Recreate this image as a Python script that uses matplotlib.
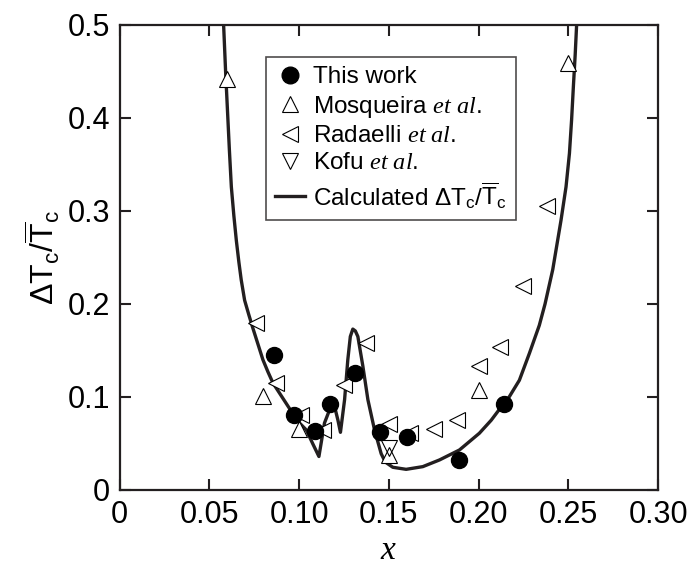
import numpy as np
import matplotlib
matplotlib.use('Agg')
import matplotlib.pyplot as plt
from matplotlib.lines import Line2D

plt.rcParams['font.family'] = ['Liberation Sans', 'DejaVu Sans']
plt.rcParams['mathtext.fontset'] = 'custom'
plt.rcParams['mathtext.rm'] = 'Liberation Sans'
plt.rcParams['mathtext.it'] = 'Liberation Serif:italic'
plt.rcParams['mathtext.bf'] = 'Liberation Sans:bold'

# 本工作
this_work_x = [0.086, 0.097, 0.109, 0.117, 0.131, 0.145, 0.160, 0.189, 0.214]
this_work_y = [0.145, 0.081, 0.063, 0.092, 0.126, 0.062, 0.057, 0.032, 0.092]

# Mosqueira et al.
mosqueira_x = [0.060, 0.080, 0.100, 0.150, 0.200, 0.250]
mosqueira_y = [0.442, 0.101, 0.066, 0.038, 0.108, 0.459]

# Radaelli et al.
radaelli_x = [0.076, 0.087, 0.101, 0.113, 0.125, 0.137, 0.150, 0.162,
              0.175, 0.188, 0.200, 0.212, 0.225, 0.238]
radaelli_y = [0.180, 0.115, 0.081, 0.065, 0.113, 0.158, 0.071, 0.061,
              0.066, 0.075, 0.133, 0.154, 0.219, 0.305]

# Kofu et al.
kofu_x = [0.150]
kofu_y = [0.045]

# 计算曲线
calc_x = [0.0579, 0.0590, 0.0600, 0.0611, 0.0622, 0.0636, 0.0650, 0.0664,
          0.0677, 0.0696, 0.0720, 0.0742, 0.0770, 0.0798, 0.0826, 0.0854,
          0.0891, 0.0928, 0.0965, 0.1002, 0.1040, 0.1075, 0.1110,
          0.1141, 0.1169, 0.1197, 0.1216, 0.1230, 0.1253, 0.1271, 0.1285,
          0.1299, 0.1313, 0.1327, 0.1355, 0.1383, 0.1420, 0.1457, 0.1480,
          0.1522, 0.1596, 0.1689, 0.1782, 0.1893, 0.2004, 0.2070, 0.2134,
          0.2171, 0.2227, 0.2283, 0.2338, 0.2370, 0.2413, 0.2459, 0.2487,
          0.2506, 0.2518, 0.2528, 0.2538, 0.2546]
calc_y = [0.500, 0.450, 0.410, 0.366, 0.326, 0.295, 0.268, 0.245,
          0.226, 0.204, 0.188, 0.174, 0.157, 0.140, 0.127, 0.115,
          0.104, 0.093, 0.082, 0.072, 0.0645, 0.050, 0.036,
          0.072, 0.086, 0.090, 0.075, 0.062, 0.097, 0.140, 0.165,
          0.173, 0.171, 0.165, 0.133, 0.097, 0.0645, 0.039, 0.030,
          0.0244, 0.0222, 0.0251, 0.0323, 0.043, 0.061, 0.075, 0.0914,
          0.1003, 0.118, 0.147, 0.177, 0.200, 0.237, 0.290, 0.326,
          0.362, 0.398, 0.434, 0.468, 0.500]

x_ticks = [0, 0.05, 0.10, 0.15, 0.20, 0.25, 0.30]
x_labels = ['0', '0.05', '0.10', '0.15', '0.20', '0.25', '0.30']
y_ticks = [0, 0.1, 0.2, 0.3, 0.4, 0.5]
y_labels = ['0', '0.1', '0.2', '0.3', '0.4', '0.5']

dark = '#231f20'

fig = plt.figure(figsize=(6.92, 5.72), dpi=100)
ax = fig.add_axes([0.173, 0.1434, 0.778, 0.8129])

ax.plot(calc_x, calc_y, color=dark, lw=2.4, zorder=2, solid_joinstyle='round')
ms = 11.5
ax.plot(mosqueira_x, mosqueira_y, ls='none', marker='^', ms=ms, mfc='white',
        mec='black', mew=0.8, zorder=3)
ax.plot(radaelli_x, radaelli_y, ls='none', marker='<', ms=ms, mfc='white',
        mec='black', mew=0.8, zorder=3)
ax.plot(kofu_x, kofu_y, ls='none', marker='v', ms=ms, mfc='none',
        mec='black', mew=0.8, zorder=3)
ax.plot(this_work_x, this_work_y, ls='none', marker='o', ms=ms, color='black',
        zorder=4)

ax.set_xlim(0, 0.30)
ax.set_ylim(0, 0.5)
ax.set_xticks(x_ticks)
ax.set_xticklabels(x_labels)
ax.set_yticks(y_ticks)
ax.set_yticklabels(y_labels)
ax.tick_params(direction='in', length=8, width=1.5, color=dark,
               top=True, right=True, labelsize=22)
ax.tick_params(axis='x', pad=7)
ax.tick_params(axis='y', pad=7)
for s in ax.spines.values():
    s.set_linewidth(1.6)
    s.set_color(dark)

ax.set_xlabel('$x$', fontsize=24, labelpad=4)
ax.set_ylabel(r'$\mathrm{\Delta T_c/\overline{T}_c}$', fontsize=23, labelpad=4)

handles = [
    Line2D([], [], ls='none', marker='o', ms=12, color='black'),
    Line2D([], [], ls='none', marker='^', ms=11, mfc='white', mec='black', mew=0.8),
    Line2D([], [], ls='none', marker='<', ms=11, mfc='white', mec='black', mew=0.8),
    Line2D([], [], ls='none', marker='v', ms=11, mfc='white', mec='black', mew=0.8),
    Line2D([], [], color=dark, lw=2.4),
]
labels = [
    'This work',
    r'Mosqueira $\mathit{et\ al.}$',
    r'Radaelli $\mathit{et\ al.}$',
    r'Kofu $\mathit{et\ al.}$',
    r'Calculated $\mathrm{\Delta T_c/\overline{T}_c}$',
]
leg = ax.legend(handles, labels, loc='upper left', bbox_to_anchor=(0.271, 0.932),
                borderaxespad=0, fontsize=17.5, frameon=True, fancybox=False,
                handlelength=1.2, handletextpad=0.35, labelspacing=0.22,
                borderpad=0.4)
leg.get_frame().set_edgecolor(dark)
leg.get_frame().set_linewidth(1.2)

fig.savefig('out.png', dpi=100)
